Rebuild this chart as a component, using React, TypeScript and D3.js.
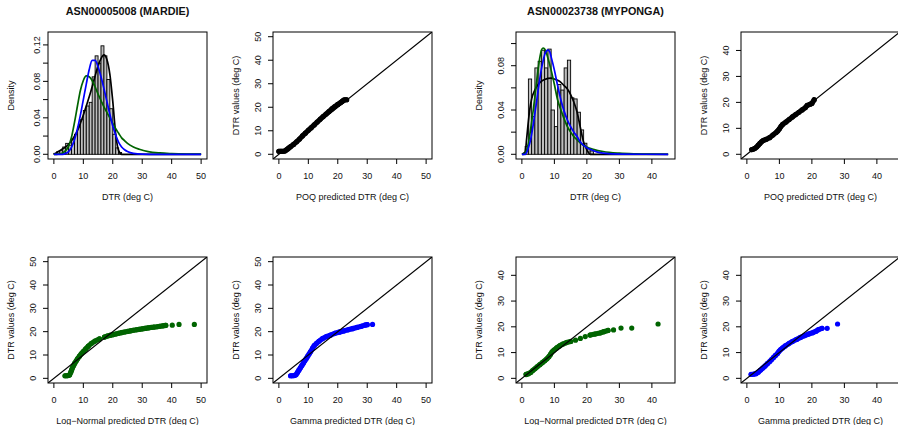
import React from "react";
import * as d3 from "d3";

type Pt = [number, number];

const stationNames = ["ASN00005008 (MARDIE)", "ASN00023738 (MYPONGA)"];

// axis limits (before R's 4% extension)
const mardieLim: Pt = [0, 50];
const mypongaLim: Pt = [0, 45.3];
const mardieDensityLim: Pt = [0, 0.129];
const mypongaDensityLim: Pt = [0, 0.1062];

const mardieTicks = [0, 10, 20, 30, 40, 50];
const mypongaTicks = [0, 10, 20, 30, 40];
const mardieDensityTicks = [0, 0.02, 0.04, 0.06, 0.08, 0.1, 0.12];
const mypongaDensityTicks = [0, 0.02, 0.04, 0.06, 0.08, 0.1];

// histogram densities, 1 deg C bins
const mardieBinStart = 0;
const mardieDensity = [
  0.001, 0.003, 0.004, 0.008, 0.012, 0.01, 0.016, 0.022, 0.03, 0.038, 0.048, 0.053,
  0.057, 0.085, 0.108, 0.1, 0.119, 0.108, 0.082, 0.05, 0.022, 0.007, 0.002,
];
const mypongaBinStart = 1;
const mypongaDensity = [
  0.007, 0.068, 0.034, 0.078, 0.084, 0.094, 0.078, 0.095, 0.04, 0.025, 0.063, 0.058,
  0.078, 0.085, 0.051, 0.05, 0.038, 0.022, 0.01, 0.005, 0.003,
];

// fitted densities [DTR, density]
const mardiePoq: Pt[] = [
  [0, 0], [1, 0.002], [2, 0.004], [3, 0.006], [4, 0.008], [5, 0.011], [6, 0.015], [7, 0.02],
  [8, 0.026], [9, 0.034], [10, 0.043], [11, 0.053], [12, 0.063], [13, 0.074], [14, 0.086],
  [15, 0.097], [16, 0.105], [17, 0.109], [18, 0.104], [19, 0.088], [20, 0.058], [21, 0.022],
  [22, 0.004], [23, 0], [50, 0],
];
const mardieLnorm: Pt[] = [
  [0, 0], [1, 0], [2, 0.0005], [3, 0.0015], [4, 0.004], [5, 0.009], [6, 0.019], [7, 0.035],
  [8, 0.053], [9, 0.07], [10, 0.081], [11, 0.086], [12, 0.085], [13, 0.081], [14, 0.074],
  [15, 0.066], [16, 0.059], [17, 0.052], [18, 0.046], [19, 0.04], [20, 0.034], [21, 0.028],
  [22, 0.023], [23, 0.018], [24, 0.015], [25, 0.012], [27, 0.008], [29, 0.0055], [32, 0.003],
  [36, 0.0015], [40, 0.0008], [45, 0.0003], [50, 0.0001],
];
const mardieGamma: Pt[] = [
  [0, 0], [3, 0], [4, 0.001], [5, 0.003], [6, 0.008], [7, 0.016], [8, 0.028], [9, 0.043],
  [10, 0.06], [11, 0.077], [12, 0.093], [13, 0.103], [14, 0.103], [15, 0.096], [16, 0.085],
  [17, 0.072], [18, 0.058], [19, 0.044], [20, 0.031], [21, 0.021], [22, 0.013], [23, 0.008],
  [24, 0.005], [25, 0.003], [27, 0.001], [30, 0.0002], [35, 0], [50, 0],
];
const mypongaPoq: Pt[] = [
  [0, 0], [1, 0.002], [1.5, 0.015], [2, 0.03], [2.5, 0.042], [3, 0.05], [4, 0.058], [5, 0.063],
  [6, 0.066], [7, 0.0675], [8, 0.0685], [9, 0.0688], [10, 0.068], [11, 0.0668], [12, 0.065],
  [13, 0.062], [14, 0.059], [15, 0.054], [16, 0.047], [17, 0.038], [18, 0.024], [19, 0.011],
  [20, 0.004], [21, 0], [45, 0],
];
const mypongaLnorm: Pt[] = [
  [0, 0], [0.5, 0], [1, 0.001], [1.5, 0.004], [2, 0.01], [2.5, 0.019], [3, 0.029], [3.5, 0.04],
  [4, 0.052], [4.5, 0.065], [5, 0.077], [5.5, 0.087], [6, 0.094], [6.5, 0.096], [7, 0.095],
  [7.5, 0.092], [8, 0.087], [9, 0.076], [10, 0.063], [11, 0.049], [12, 0.04], [13, 0.032],
  [14, 0.025], [15, 0.02], [16, 0.016], [17, 0.013], [18, 0.01], [20, 0.0065], [22, 0.0045],
  [25, 0.0025], [30, 0.001], [35, 0.0004], [40, 0.00015], [45, 0.00005],
];
const mypongaGamma: Pt[] = [
  [0, 0], [1, 0], [1.5, 0.002], [2, 0.006], [2.5, 0.011], [3, 0.018], [3.5, 0.027], [4, 0.037],
  [4.5, 0.047], [5, 0.058], [5.5, 0.068], [6, 0.077], [6.5, 0.084], [7, 0.09], [7.5, 0.093],
  [8, 0.094], [8.5, 0.093], [9, 0.088], [10, 0.076], [11, 0.062], [12, 0.049], [13, 0.039],
  [14, 0.031], [15, 0.025], [16, 0.02], [17, 0.016], [18, 0.011], [19, 0.008], [20, 0.006],
  [21, 0.0045], [23, 0.0022], [25, 0.001], [30, 0.0001], [45, 0],
];

// quantile-quantile points [predicted, observed]
const mardiePoqQQ: Pt[] = [
  [0, 1.3], [0.5, 1.3], [1, 1.3], [1.5, 1.3], [2, 1.4], [2.5, 1.8], [3, 2.3], [3.5, 2.8], [4, 3.3],
  [5, 4.2], [6, 5.3], [7, 6.5], [8, 7.8], [9, 9.0], [10, 10.2], [11, 11.3], [12, 12.5], [13, 13.7],
  [14, 14.9], [15, 16.0], [16, 17.1], [17, 18.2], [18, 19.3], [19, 20.3], [20, 21.2], [21, 22.0],
  [21.5, 22.5], [22, 23.0], [22.5, 23.2], [23, 23.2],
];
const mardieLnormQQ: Pt[] = [
  [3.8, 1.1], [4.3, 1.1], [4.8, 1.2], [5.3, 1.4], [5.7, 2.5], [6.0, 3.5], [6.3, 4.5], [6.7, 5.5],
  [7.1, 6.5], [7.6, 7.5], [8.1, 8.5], [8.7, 9.5], [9.3, 10.5], [10.0, 11.5], [10.8, 12.6],
  [11.7, 13.8], [12.8, 15.0], [14.0, 16.0], [15.5, 16.9], [17.2, 17.7], [18.1, 18.1], [19.0, 18.4],
  [20.0, 18.7], [21.0, 19.0], [22.0, 19.3], [23.0, 19.6], [24.0, 19.85], [25.0, 20.1], [26.0, 20.35],
  [27.0, 20.6], [28.0, 20.8], [29.0, 21.0], [30.0, 21.2], [31.0, 21.4], [32.0, 21.6], [33.0, 21.8],
  [34.0, 21.95], [35.0, 22.1], [36.0, 22.3], [37.0, 22.5], [38.0, 22.7], [40.2, 22.8], [42.5, 23.1],
  [47.7, 23.1],
];
const mardieGammaQQ: Pt[] = [
  [4.0, 1.1], [4.6, 1.1], [5.2, 1.2], [5.8, 1.5], [6.3, 2.5], [6.8, 3.5], [7.3, 4.5], [7.8, 5.5],
  [8.3, 6.5], [8.8, 7.5], [9.3, 8.5], [9.8, 9.5], [10.3, 10.5], [10.8, 11.5], [11.4, 12.8],
  [12.0, 14.0], [12.8, 15.0], [13.7, 16.0], [14.8, 17.0], [16.0, 17.8], [17.5, 18.5], [19.0, 19.3],
  [20.5, 19.8], [22.0, 20.3], [23.5, 20.8], [25.0, 21.3], [26.5, 21.8], [28.0, 22.3], [29.2, 22.8],
  [30.0, 23.0], [31.8, 23.1],
];
const mypongaPoqQQ: Pt[] = [
  [1.5, 1.8], [2.0, 2.0], [2.5, 2.3], [3.0, 2.8], [3.5, 3.5], [4.0, 4.2], [4.5, 4.8], [5.0, 5.3],
  [6.0, 5.8], [7.0, 6.4], [8.0, 7.4], [9.0, 8.4], [9.5, 9.0], [10.0, 9.8], [10.5, 10.8], [11.0, 11.5],
  [12.0, 12.4], [13.0, 13.4], [14.0, 14.4], [15.0, 15.3], [16.0, 16.2], [17.0, 17.1], [18.0, 18.0],
  [18.5, 18.8], [19.5, 19.3], [20.0, 19.6], [20.7, 21.0],
];
const mypongaLnormQQ: Pt[] = [
  [1.3, 1.5], [2.0, 1.8], [2.7, 2.3], [3.3, 3.0], [4.0, 3.7], [4.7, 4.5], [5.5, 5.3], [6.3, 6.1],
  [7.0, 6.8], [7.7, 7.6], [8.3, 8.4], [8.8, 9.3], [9.3, 10.3], [9.9, 11.0], [10.7, 11.8],
  [11.6, 12.6], [12.6, 13.3], [13.7, 13.9], [15.0, 14.3], [16.5, 14.8], [18.0, 15.5], [19.5, 16.2],
  [21.0, 16.8], [22.5, 17.2], [24.0, 17.6], [25.2, 18.1], [26.5, 18.6], [28.2, 18.8], [30.5, 19.5],
  [33.8, 19.5], [41.9, 21.1],
];
const mypongaGammaQQ: Pt[] = [
  [1.3, 1.5], [2.0, 1.6], [2.8, 1.8], [3.5, 2.4], [4.2, 3.2], [4.9, 4.0], [5.6, 4.8], [6.3, 5.7],
  [7.0, 6.5], [7.6, 7.3], [8.2, 8.1], [8.8, 8.9], [9.4, 9.6], [9.9, 10.5], [10.4, 11.2], [11.0, 11.8],
  [11.8, 12.6], [12.8, 13.4], [14.0, 14.3], [15.3, 15.1], [16.5, 15.9], [17.8, 16.6], [19.0, 17.2],
  [20.2, 17.7], [21.3, 18.3], [22.0, 18.9], [23.1, 19.4], [24.7, 19.4], [27.9, 21.1],
];

const FONT = "'Liberation Sans', Arial, Helvetica, sans-serif";
const BOX_W = 159;
const rows = [
  { top: 32, bottom: 159 },
  { top: 257, bottom: 383 },
];
const GREEN = "#006400";
const BLUE = "#0000ff";
const PT_R = 2.6;

// R pads the axis range by 4% on each side
const ext = (lim: Pt): Pt => {
  const d = (lim[1] - lim[0]) * 0.04;
  return [lim[0] - d, lim[1] + d];
};

type Scale = d3.ScaleLinear<number, number>;

function Axes(props: {
  x: Scale; y: Scale; left: number; top: number; bottom: number;
  xTicks: number[]; yTicks: number[]; yFmt: (v: number) => string; yStep: number;
  yOff: number; xTitle: string; yTitle: string;
}) {
  const { x, y, left, top, bottom, xTicks, yTicks, yFmt, yStep, yOff, xTitle, yTitle } = props;
  return (
    <g fontFamily={FONT} fontSize={9} fill="#111">
      <rect x={left} y={top} width={BOX_W} height={bottom - top} fill="none" stroke="#000" strokeWidth={1} />
      {xTicks.map((t) => (
        <g key={"x" + t}>
          <line x1={x(t)} x2={x(t)} y1={bottom} y2={bottom + 5} stroke="#000" />
          <text x={x(t)} y={bottom + 20} textAnchor="middle">{t}</text>
        </g>
      ))}
      {yTicks.map((t, i) => (
        <g key={"y" + i}>
          <line x1={left - 5} x2={left} y1={y(t)} y2={y(t)} stroke="#000" />
          {i % yStep === 0 && (
            <text transform={`translate(${left - yOff + 3.2},${y(t)}) rotate(-90)`} textAnchor="middle">
              {yFmt(t)}
            </text>
          )}
        </g>
      ))}
      <text x={left + BOX_W / 2} y={bottom + 41} textAnchor="middle">{xTitle}</text>
      <text transform={`translate(${left - 34},${(top + bottom) / 2}) rotate(-90)`} textAnchor="middle">
        {yTitle}
      </text>
    </g>
  );
}

function HistPanel(props: {
  id: string; left: number; title: string; lim: Pt; dLim: Pt; ticks: number[]; dTicks: number[];
  binStart: number; dens: number[]; curves: { pts: Pt[]; color: string }[]; yOff: number;
}) {
  const { id, left, title, lim, dLim, ticks, dTicks, binStart, dens, curves, yOff } = props;
  const { top, bottom } = rows[0];
  const x = d3.scaleLinear().domain(ext(lim)).range([left, left + BOX_W]);
  const y = d3.scaleLinear().domain(ext(dLim)).range([bottom, top]);
  const line = d3.line<Pt>().x((d) => x(d[0])).y((d) => y(d[1])).curve(d3.curveMonotoneX);
  return (
    <g>
      <clipPath id={id}>
        <rect x={left} y={top} width={BOX_W} height={bottom - top} />
      </clipPath>
      <g clipPath={`url(#${id})`}>
        {dens.map((v, i) => (
          <rect key={i} x={x(binStart + i)} width={x(binStart + i + 1) - x(binStart + i)}
            y={y(v)} height={y(0) - y(v)} fill="#bebebe" stroke="#000" strokeWidth={0.9} />
        ))}
        {curves.map((c, i) => (
          <path key={i} d={line(c.pts) || ""} fill="none" stroke={c.color} strokeWidth={1.7} />
        ))}
      </g>
      <text x={left + BOX_W / 2} y={15} textAnchor="middle" fontFamily={FONT} fontSize={10.8}
        fontWeight="bold" fill="#111">{title}</text>
      <Axes x={x} y={y} left={left} top={top} bottom={bottom} xTicks={ticks} yTicks={dTicks}
        yFmt={d3.format(".2f")} yStep={2} yOff={yOff} xTitle="DTR (deg C)" yTitle="Density" />
    </g>
  );
}

function QQPanel(props: {
  id: string; left: number; row: number; lim: Pt; ticks: number[]; pts: Pt[]; color: string; xTitle: string;
}) {
  const { id, left, row, lim, ticks, pts, color, xTitle } = props;
  const { top, bottom } = rows[row];
  const dom = ext(lim);
  const x = d3.scaleLinear().domain(dom).range([left, left + BOX_W]);
  const y = d3.scaleLinear().domain(dom).range([bottom, top]);
  // overlapping points merge into a band; split where they are far apart
  const segs: Pt[][] = [];
  let cur: Pt[] = [];
  pts.forEach((p, i) => {
    if (i > 0) {
      const q = pts[i - 1];
      if (Math.hypot(x(p[0]) - x(q[0]), y(p[1]) - y(q[1])) > 5) {
        segs.push(cur);
        cur = [];
      }
    }
    cur.push(p);
  });
  segs.push(cur);
  const line = d3.line<Pt>().x((d) => x(d[0])).y((d) => y(d[1]));
  return (
    <g>
      <clipPath id={id}>
        <rect x={left} y={top} width={BOX_W} height={bottom - top} />
      </clipPath>
      <g clipPath={`url(#${id})`}>
        {segs.filter((s) => s.length > 1).map((s, i) => (
          <path key={i} d={line(s) || ""} fill="none" stroke={color} strokeWidth={PT_R * 2}
            strokeLinecap="round" strokeLinejoin="round" />
        ))}
        {pts.map((p, i) => (
          <circle key={i} cx={x(p[0])} cy={y(p[1])} r={PT_R} fill={color} />
        ))}
        <line x1={x(dom[0])} y1={y(dom[0])} x2={x(dom[1])} y2={y(dom[1])} stroke="#000" strokeWidth={1.2} />
      </g>
      <Axes x={x} y={y} left={left} top={top} bottom={bottom} xTicks={ticks} yTicks={ticks}
        yFmt={(v) => String(v)} yStep={1} yOff={15} xTitle={xTitle} yTitle="DTR values (deg C)" />
    </g>
  );
}

const stations = [
  {
    left: 48, title: stationNames[0], lim: mardieLim, dLim: mardieDensityLim, ticks: mardieTicks,
    dTicks: mardieDensityTicks, binStart: mardieBinStart, dens: mardieDensity,
    poq: mardiePoq, lnorm: mardieLnorm, gamma: mardieGamma,
    poqQQ: mardiePoqQQ, lnormQQ: mardieLnormQQ, gammaQQ: mardieGammaQQ, yOff: 10.8,
  },
  {
    left: 516, title: stationNames[1], lim: mypongaLim, dLim: mypongaDensityLim, ticks: mypongaTicks,
    dTicks: mypongaDensityTicks, binStart: mypongaBinStart, dens: mypongaDensity,
    poq: mypongaPoq, lnorm: mypongaLnorm, gamma: mypongaGamma,
    poqQQ: mypongaPoqQQ, lnormQQ: mypongaLnormQQ, gammaQQ: mypongaGammaQQ, yOff: 15,
  },
];

export default function App() {
  return (
    <svg width={898} height={425} style={{ position: "absolute", left: 0, top: 0, background: "#fff" }}>
      {stations.map((s, k) => (
        <g key={k}>
          <HistPanel id={`h${k}`} left={s.left} title={s.title} lim={s.lim} dLim={s.dLim} ticks={s.ticks}
            dTicks={s.dTicks} binStart={s.binStart} dens={s.dens} yOff={s.yOff}
            curves={[
              { pts: s.poq, color: "#000" },
              { pts: s.lnorm, color: GREEN },
              { pts: s.gamma, color: BLUE },
            ]} />
          <QQPanel id={`q${k}a`} left={s.left + 225} row={0} lim={s.lim} ticks={s.ticks} pts={s.poqQQ}
            color="#000" xTitle="POQ predicted DTR (deg C)" />
          <QQPanel id={`q${k}b`} left={s.left} row={1} lim={s.lim} ticks={s.ticks} pts={s.lnormQQ}
            color={GREEN} xTitle="Log−Normal predicted DTR (deg C)" />
          <QQPanel id={`q${k}c`} left={s.left + 225} row={1} lim={s.lim} ticks={s.ticks} pts={s.gammaQQ}
            color={BLUE} xTitle="Gamma predicted DTR (deg C)" />
        </g>
      ))}
    </svg>
  );
}
